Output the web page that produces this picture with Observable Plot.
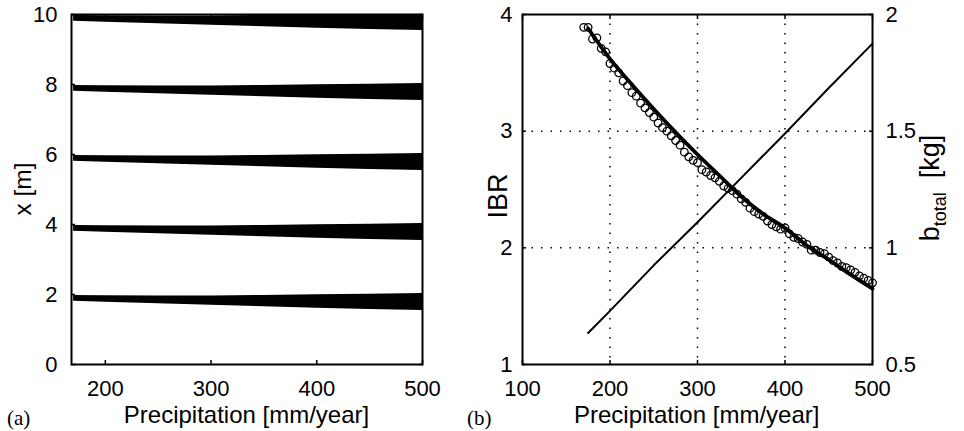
<!DOCTYPE html>
<html><head><meta charset="utf-8">
<script src="https://cdn.jsdelivr.net/npm/d3@7"></script>
<script src="https://cdn.jsdelivr.net/npm/@observablehq/plot@0.6"></script>
<style>
html,body{margin:0;padding:0;background:#fff;}
#wrap{position:relative;width:964px;height:431px;overflow:hidden;font-family:"Liberation Sans",Arial,sans-serif;}
#wrap svg{position:absolute;top:0;}
</style></head><body><div id="wrap"></div>
<script>
// ---------- Panel (a) data ----------
const bandCenters = [2, 4, 6, 8, 10];
const bandPrecip = [170, 200, 250, 300, 350, 400, 450, 500];
const bandUpper = [-0.03, -0.035, -0.04, -0.04, -0.03, -0.01, 0.01, 0.03];
const bandLower = [-0.19, -0.22, -0.265, -0.31, -0.35, -0.39, -0.43, -0.46];
const xTicksA = [200, 300, 400, 500];
const yTicksA = [0, 2, 4, 6, 8, 10];

// ---------- Panel (b) data ----------
const ibrPrecip = [170,175,180,185,190,195,200,205,210,215,220,225,230,235,240,245,250,255,260,265,270,275,280,285,290,295,300,305,310,315,320,325,330,335,340,345,350,355,360,365,370,375,380,385,390,395,400,405,410,415,420,425,430,435,440,445,450,455,460,465,470,475,480,485,490,495,500];
const ibrObs = [3.89,3.89,3.79,3.80,3.71,3.68,3.58,3.54,3.50,3.43,
  3.39,3.33,3.30,3.24,3.20,3.16,3.12,3.07,3.03,3.00,
  2.96,2.92,2.88,2.82,2.78,2.75,2.73,2.67,2.65,2.62,
  2.60,2.57,2.53,2.51,2.49,2.46,2.42,2.39,2.34,2.31,
  2.29,2.27,2.23,2.20,2.18,2.16,2.17,2.12,2.09,2.08,
  2.05,2.03,1.98,1.98,1.96,1.95,1.92,1.89,1.87,1.84,
  1.83,1.81,1.79,1.76,1.74,1.72,1.70];
const fitPrecip = [175, 200, 225, 250, 275, 300, 325, 350, 375, 400, 425, 450, 475, 500];
const fitIBR = [3.88, 3.62, 3.40, 3.19, 2.99, 2.80, 2.62, 2.44, 2.29, 2.17, 2.02, 1.90, 1.77, 1.65];
const bPrecip = [175, 200, 250, 300, 350, 400, 450, 500];
const bTotal = [0.635, 0.73, 0.925, 1.11, 1.30, 1.49, 1.685, 1.875];
const xTicksB = [100, 200, 300, 400, 500];
const gridXB = [200, 300, 400];
const yTicksB = [1, 2, 3, 4];
const gridYB = [2, 3];
const yTicksB2 = [0.5, 1, 1.5, 2];

// ---------- build tables ----------
const bandRows = bandCenters.flatMap(c => bandPrecip.map((p, i) => ({band: c, p, lo: c + bandLower[i], hi: c + bandUpper[i]})));
const obsRows = ibrPrecip.map((p, i) => ({p, v: ibrObs[i]}));
const fitRows = fitPrecip.map((p, i) => ({p, v: fitIBR[i]}));
const bRows = bPrecip.map((p, i) => ({p, v: bTotal[i]}));

const FONT = "'Liberation Sans', Arial, sans-serif";
const SERIF = "'Liberation Serif', 'Times New Roman', serif";
const TICKFS = 22;
const fmt = d => String(d);
const baseStyle = {fontFamily: FONT, fontSize: "22px", color: "black", background: "transparent", overflow: "visible"};
const wrap = document.getElementById("wrap");

// ---------- Panel (a) ----------
const plotA = Plot.plot({
  width: 440, height: 431,
  marginLeft: 71, marginRight: 18, marginTop: 14, marginBottom: 67,
  style: baseStyle,
  x: {domain: [168, 500]},
  y: {domain: [0, 10]},
  marks: [
    Plot.areaY(bandRows, {x: "p", y1: "lo", y2: "hi", z: "band", fill: "black", clip: true}),
    Plot.axisX(xTicksA, {anchor: "bottom", tickSize: -4, tickPadding: 20, label: null, strokeWidth: 1.5, fontSize: TICKFS, tickFormat: fmt}),
    Plot.axisX(xTicksA, {anchor: "top", tickSize: -4, tickFormat: () => "", label: null, strokeWidth: 1.5}),
    Plot.axisY(yTicksA, {anchor: "left", tickSize: -4, tickPadding: 18, label: null, strokeWidth: 1.5, fontSize: TICKFS, tickFormat: fmt}),
    Plot.axisY(yTicksA, {anchor: "right", tickSize: -4, tickFormat: () => "", label: null, strokeWidth: 1.5}),
    Plot.frame({stroke: "black", strokeWidth: 2})
  ]
});
plotA.style.left = "0px";
wrap.appendChild(plotA);

// ---------- Panel (b) base (IBR) ----------
const plotB = Plot.plot({
  width: 524, height: 431,
  marginLeft: 82, marginRight: 92, marginTop: 14, marginBottom: 67,
  style: baseStyle,
  x: {domain: [100, 500]},
  y: {domain: [1, 4]},
  marks: [
    Plot.gridX(gridXB, {stroke: "black", strokeOpacity: 1, strokeWidth: 1.5, strokeDasharray: "1.5,8"}),
    Plot.gridY(gridYB, {stroke: "black", strokeOpacity: 1, strokeWidth: 1.5, strokeDasharray: "1.5,8"}),
    Plot.dot(obsRows, {x: "p", y: "v", r: 3.8, stroke: "black", strokeWidth: 1.3, fill: "none"}),
    Plot.line(fitRows, {x: "p", y: "v", stroke: "black", strokeWidth: 3.8, curve: "monotone-x"}),
    Plot.axisX(xTicksB, {anchor: "bottom", tickSize: -4, tickPadding: 20, label: null, strokeWidth: 1.5, fontSize: TICKFS, tickFormat: fmt}),
    Plot.axisX(xTicksB, {anchor: "top", tickSize: -4, tickFormat: () => "", label: null, strokeWidth: 1.5}),
    Plot.axisY(yTicksB, {anchor: "left", tickSize: -4, tickPadding: 14, label: null, strokeWidth: 1.5, fontSize: TICKFS, tickFormat: fmt}),
    Plot.frame({stroke: "black", strokeWidth: 2})
  ]
});
plotB.style.left = "440px";
wrap.appendChild(plotB);

// ---------- Panel (b) overlay (b_total) ----------
const plotB2 = Plot.plot({
  width: 524, height: 431,
  marginLeft: 82, marginRight: 92, marginTop: 14, marginBottom: 67,
  style: baseStyle,
  x: {domain: [100, 500], axis: null},
  y: {domain: [0.5, 2]},
  marks: [
    Plot.line(bRows, {x: "p", y: "v", stroke: "black", strokeWidth: 2}),
    Plot.axisY(yTicksB2, {anchor: "right", tickSize: -4, tickPadding: 17, label: null, strokeWidth: 1.5, fontSize: TICKFS, tickFormat: fmt})
  ]
});
plotB2.style.left = "440px";
plotB2.style.pointerEvents = "none";
wrap.appendChild(plotB2);

// ---------- titles ----------
function addText(svg, x, y, txt, opts = {}) {
  const t = d3.select(svg).append("text")
    .attr("x", x).attr("y", y)
    .attr("text-anchor", opts.anchor || "middle")
    .attr("font-family", opts.family || FONT)
    .attr("font-size", opts.size || 24)
    .attr("fill", "black")
    .text(txt);
  if (opts.rotate) t.attr("transform", `rotate(${opts.rotate},${x},${y})`);
  if (opts.baseline) t.attr("dominant-baseline", opts.baseline);
  return t;
}
addText(plotA, 246.5, 423, "Precipitation [mm/year]");
addText(plotA, 22, 189, "x [m]", {rotate: -90, baseline: "central", size: 24.5});
addText(plotA, 7, 425, "(a)", {anchor: "start", family: SERIF, size: 21});

addText(plotB, 256.7, 423, "Precipitation [mm/year]");
addText(plotB, 58, 196, "IBR", {rotate: -90, baseline: "central", size: 27});
addText(plotB, 27, 425, "(b)", {anchor: "start", family: SERIF, size: 21});

// b_total [kg] on the right
const bt = d3.select(plotB2).append("text")
  .attr("transform", "translate(499,188) rotate(-90)")
  .attr("text-anchor", "middle")
  .attr("font-family", FONT)
  .attr("font-size", 27)
  .attr("fill", "black");
bt.append("tspan").text("b");
bt.append("tspan").attr("dy", 7).attr("font-size", 18).text("total");
bt.append("tspan").attr("dy", -7).attr("dx", 14).text("[kg]");
</script></body></html>
